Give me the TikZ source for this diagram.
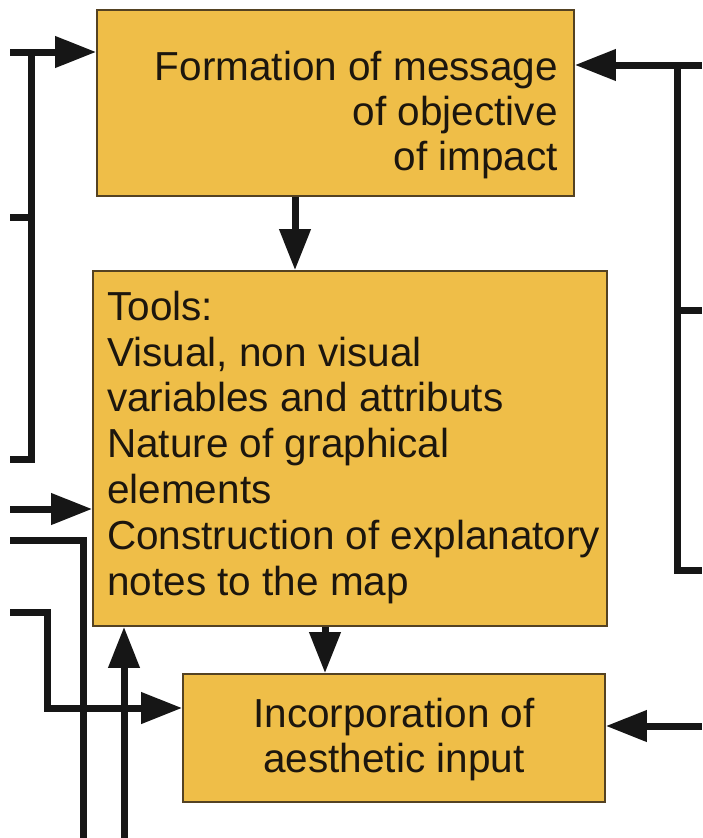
\documentclass[tikz,border=0pt]{standalone}
\usepackage{fontspec}
\setmainfont{Liberation Sans}
\usetikzlibrary{arrows.meta}
\definecolor{boxfill}{RGB}{239,190,72}
\definecolor{boxline}{RGB}{84,66,34}
\definecolor{ink}{RGB}{28,22,14}
\definecolor{wire}{RGB}{22,22,22}
\begin{document}
\begin{tikzpicture}[x=1pt,y=-1pt,
  box/.style={draw=boxline,line width=1.6pt,fill=boxfill,inner sep=0pt},
  boxtext/.style={inner sep=0pt,text=ink},
  wire/.style={draw=wire,line width=7pt,line join=miter},
  feed/.style={wire,-{Triangle[length=41pt,width=30pt]}}]
\useasboundingbox (0,0) rectangle (702,838);
\fill[white] (0,0) rectangle (702,838);

% boxes
\node[box,minimum width=477pt,minimum height=186pt] (b1) at (335.5,103) {};
\node[box,minimum width=514pt,minimum height=355pt] (b2) at (350,448.5) {};
\node[box,minimum width=422pt,minimum height=128pt] (b3) at (394,738) {};

% box texts
\node[boxtext,anchor=north east,align=right,font=\fontsize{40.5}{45}\selectfont] (t1) at (558,48)
  {\rule{0pt}{32pt}Formation of message\\of objective\\of impact};
\node[boxtext,anchor=north west,align=left,font=\fontsize{40.5}{45.8}\selectfont] (t2) at (107,288)
  {\rule{0pt}{32pt}Tools:\\Visual, non visual\\variables and attributs\\Nature of graphical\\elements\\Construction of explanatory\\notes to the map};
\node[boxtext,anchor=north,align=center,font=\fontsize{40.5}{45}\selectfont] (t3) at (394,695)
  {\rule{0pt}{32pt}Incorporation of\\aesthetic input};

% free ends of the connectors
\coordinate (la) at (10,52);
\coordinate (lb) at (10,217);
\coordinate (lc) at (10,459);
\coordinate (ld) at (10,509);
\coordinate (le) at (10,540);
\coordinate (lf) at (10,612);
\coordinate (lg) at (124,838);
\coordinate (ra) at (702,65);
\coordinate (rb) at (702,310);
\coordinate (rc) at (702,570);
\coordinate (rd) at (702,726);
\coordinate (x1) at (295,0);
\coordinate (x2) at (325,0);

% left side
\draw[feed] (la) -- (la -| b1.west);
\draw[wire] (31,52) -- (31,459) -- (lc);
\draw[wire] (lb) -- (31,217);
\draw[feed] (ld) -- (ld -| b2.west);
\draw[wire] (le) -- (83,540) -- (83,838);
\draw[feed] (lf) -- (47,612) -- (47,708) -- (b3.west |- 0,708);
\draw[feed] (lg) -- (lg |- b2.south);

% between boxes
\draw[feed] (x1 |- b1.south) -- (x1 |- b2.north);
\draw[feed] (x2 |- b2.south) -- (x2 |- b3.north);

% right side
\draw[feed] (ra) -- (ra -| b1.east);
\draw[wire] (677,65) -- (677,570) -- (rc);
\draw[wire] (rb) -- (677,310);
\draw[feed] (rd) -- (rd -| b3.east);
\end{tikzpicture}
\end{document}
